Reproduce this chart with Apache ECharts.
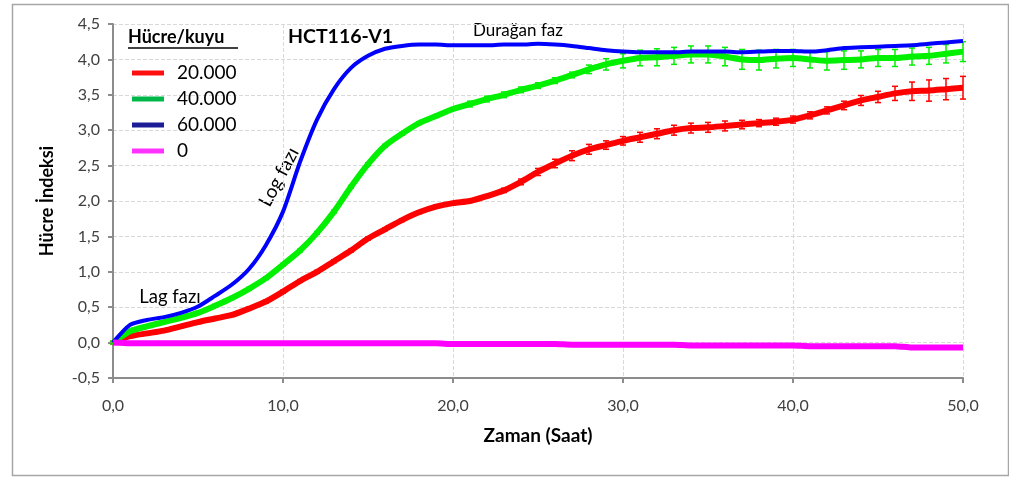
<!DOCTYPE html>
<html><head><meta charset="utf-8">
<script src="https://cdn.jsdelivr.net/npm/echarts@6/dist/echarts.min.js"></script>
<style>html,body{margin:0;padding:0;background:#fff}#c{width:1009px;height:477px}</style>
</head><body><div id="c"></div>
<script>
// ---- data ----
const hours = [0,1,2,3,4,5,6,7,8,9,10,11,12,13,14,15,16,17,18,19,20,21,22,23,24,25,26,27,28,29,30,31,32,33,34,35,36,37,38,39,40,41,42,43,44,45,46,47,48,49,50];
const seriesNames = ['20.000','40.000','60.000','0'];
const cells20000 = [0,0.09,0.13,0.17,0.23,0.29,0.34,0.39,0.48,0.58,0.72,0.87,1.0,1.15,1.3,1.47,1.6,1.73,1.84,1.92,1.97,2.0,2.07,2.15,2.27,2.41,2.53,2.64,2.73,2.79,2.85,2.9,2.95,3.0,3.03,3.04,3.06,3.08,3.1,3.12,3.15,3.21,3.28,3.35,3.42,3.47,3.52,3.55,3.56,3.58,3.6];
const err20000 = [0.02,0.02,0.02,0.02,0.02,0.02,0.02,0.02,0.02,0.02,0.02,0.02,0.02,0.02,0.02,0.02,0.02,0.02,0.02,0.02,0.02,0.02,0.02,0.03,0.04,0.05,0.06,0.07,0.07,0.06,0.06,0.07,0.07,0.07,0.07,0.07,0.07,0.06,0.05,0.05,0.05,0.05,0.05,0.06,0.07,0.08,0.1,0.13,0.15,0.15,0.16];
const cells40000 = [0,0.16,0.23,0.29,0.35,0.42,0.52,0.63,0.76,0.91,1.1,1.3,1.55,1.85,2.2,2.52,2.78,2.95,3.1,3.2,3.3,3.37,3.44,3.5,3.57,3.63,3.7,3.78,3.86,3.93,3.98,4.02,4.03,4.05,4.07,4.07,4.04,4.0,3.99,4.01,4.02,4.0,3.98,3.99,4.0,4.02,4.02,4.04,4.05,4.08,4.11];
const err40000 = [0.02,0.02,0.02,0.02,0.02,0.02,0.02,0.02,0.02,0.02,0.02,0.02,0.02,0.02,0.02,0.02,0.02,0.02,0.02,0.02,0.02,0.04,0.04,0.04,0.04,0.04,0.04,0.04,0.06,0.08,0.1,0.11,0.12,0.12,0.12,0.12,0.13,0.14,0.14,0.13,0.12,0.12,0.13,0.13,0.12,0.12,0.12,0.12,0.12,0.13,0.14];
const cells60000 = [0,0.25,0.32,0.36,0.42,0.51,0.66,0.82,1.04,1.38,1.85,2.55,3.15,3.58,3.88,4.05,4.15,4.19,4.21,4.21,4.2,4.2,4.2,4.21,4.21,4.22,4.21,4.19,4.16,4.13,4.11,4.1,4.1,4.1,4.11,4.11,4.11,4.1,4.11,4.12,4.12,4.11,4.13,4.16,4.17,4.18,4.19,4.2,4.22,4.24,4.26];
const cells0 = [0,-0.01,-0.01,-0.01,-0.01,-0.01,-0.01,-0.01,-0.01,-0.01,-0.01,-0.01,-0.01,-0.01,-0.01,-0.01,-0.01,-0.01,-0.01,-0.01,-0.02,-0.02,-0.02,-0.02,-0.02,-0.02,-0.02,-0.03,-0.03,-0.03,-0.03,-0.03,-0.03,-0.03,-0.04,-0.04,-0.04,-0.04,-0.04,-0.04,-0.04,-0.05,-0.05,-0.05,-0.05,-0.05,-0.05,-0.07,-0.07,-0.07,-0.07];
const lineColors = ['#ff0000','#00f000','#0000ff','#ff00ff'];
const legendColors = ['#ff1010','#00b84a','#1c1c96','#ff33ff'];

// ---- chart ----
const FONT = 'Lato';
const chart = echarts.init(document.getElementById('c'), null, {renderer:'canvas'});
const fmt = v => v.toFixed(1).replace('.', ',');
function pairs(vals){ return hours.map((h,i)=>[h, vals[i]]); }
function errSeries(vals, errs, color){
  return {
    type:'custom', silent:true, z:2,
    data: hours.map((h,i)=>[h, vals[i]-errs[i], vals[i]+errs[i]]),
    encode:{x:0, y:[1,2]},
    renderItem(params, api){
      const x = api.value(0);
      const lo = api.coord([x, api.value(1)]);
      const hi = api.coord([x, api.value(2)]);
      const w = 3, st = {stroke:color, lineWidth:1.5};
      return {type:'group', children:[
        {type:'line', shape:{x1:lo[0],y1:lo[1],x2:hi[0],y2:hi[1]}, style:st},
        {type:'line', shape:{x1:lo[0]-w,y1:lo[1],x2:lo[0]+w,y2:lo[1]}, style:st},
        {type:'line', shape:{x1:hi[0]-w,y1:hi[1],x2:hi[0]+w,y2:hi[1]}, style:st}
      ]};
    }
  };
}
function lineSeries(name, vals, color, width){
  return {type:'line', name, data:pairs(vals), showSymbol:false, symbol:'none', smooth:0.25,
    lineStyle:{color, width}, itemStyle:{color}, z:3};
}
const option = {
  animation:false,
  backgroundColor:'#ffffff',
  grid:{left:113, right:46, top:24, bottom:99, containLabel:false},
  xAxis:{type:'value', min:0, max:50, interval:10,
    name:'Zaman (Saat)', nameLocation:'middle', nameGap:48,
    nameTextStyle:{fontFamily:FONT, fontWeight:'bold', fontSize:19, color:'#000'},
    axisLine:{onZero:false, lineStyle:{color:'#8c8c8c', width:2}},
    axisTick:{show:true, length:5, lineStyle:{color:'#8c8c8c', width:2}},
    axisLabel:{formatter:fmt, fontFamily:FONT, fontSize:16, color:'#404040', margin:20},
    splitLine:{show:true, lineStyle:{color:'#d9d9d9', type:'dashed', width:1}}
  },
  yAxis:{type:'value', min:-0.5, max:4.5, interval:0.5,
    name:'Hücre İndeksi', nameLocation:'middle', nameGap:57, nameRotate:90,
    nameTextStyle:{fontFamily:FONT, fontWeight:'bold', fontSize:18, color:'#000'},
    axisLine:{show:true, onZero:false, lineStyle:{color:'#8c8c8c', width:2}},
    axisTick:{show:true, length:5, lineStyle:{color:'#8c8c8c', width:2}},
    axisLabel:{formatter:fmt, fontFamily:FONT, fontSize:16, color:'#404040', margin:13},
    splitLine:{show:true, lineStyle:{color:'#d9d9d9', type:'dashed', width:1}}
  },
  legend:{orient:'vertical', left:127, top:58, itemWidth:32, itemHeight:5, itemGap:6, icon:'rect',
    textStyle:{fontFamily:FONT, fontSize:19, color:'#000', lineHeight:20, padding:[0,0,0,8]},
    data: seriesNames.map((n,i)=>({name:n, itemStyle:{color:legendColors[i]}}))
  },
  series:[
    errSeries(cells20000, err20000, lineColors[0]),
    lineSeries(seriesNames[0], cells20000, lineColors[0], 6),
    errSeries(cells40000, err40000, lineColors[1]),
    lineSeries(seriesNames[1], cells40000, lineColors[1], 6),
    lineSeries(seriesNames[2], cells60000, lineColors[2], 4),
    lineSeries(seriesNames[3], cells0, lineColors[3], 6)
  ],
  graphic:[
    {type:'rect', left:10, top:2, shape:{width:996, height:471}, silent:true,
      style:{fill:'none', stroke:'#a6a6a6', lineWidth:1.5}},
    {type:'text', x:128, y:37, style:{text:'Hücre/kuyu', fontFamily:FONT, fontWeight:'bold', fontSize:18, fill:'#000', align:'left', verticalAlign:'middle'}},
    {type:'line', shape:{x1:128, y1:48, x2:238, y2:48}, style:{stroke:'#000', lineWidth:1.5}},
    {type:'text', x:288, y:37, style:{text:'HCT116-V1', fontFamily:FONT, fontWeight:'bold', fontSize:19.5, fill:'#000', align:'left', verticalAlign:'middle'}},
    {type:'text', x:473, y:31, style:{text:'Durağan faz', fontFamily:FONT, fontSize:17, fill:'#000', align:'left', verticalAlign:'middle'}},
    {type:'text', x:170, y:297, style:{text:'Lag fazı', fontFamily:FONT, fontSize:18.5, fill:'#000', align:'center', verticalAlign:'middle'}},
    {type:'text', x:279, y:177, rotation:62*Math.PI/180, style:{text:'Log fazı', fontFamily:FONT, fontSize:19, fill:'#000', align:'center', verticalAlign:'middle'}}
  ]
};
chart.setOption(option);
</script></body></html>
